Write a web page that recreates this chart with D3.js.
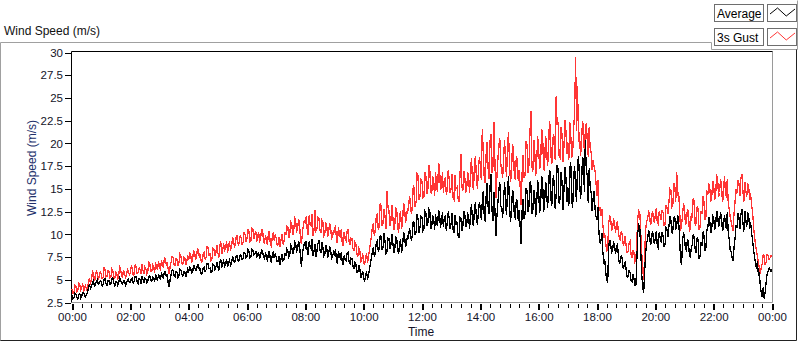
<!DOCTYPE html>
<html>
<head>
<meta charset="utf-8">
<script src="https://cdn.jsdelivr.net/npm/d3@7"></script>
<style>
  body { margin: 0; background: #fff; }
  svg { display: block; font-family: "Liberation Sans", Arial, sans-serif; }
</style>
</head>
<body>
<svg id="chart" width="800" height="342"></svg>
<script>
// sample interval of the logged data, minutes
const SAMPLE_MIN = 2

// Average wind speed (m/s), one row per hour
const avgSpeed = [
  3.3,2.9,3.0,3.5,3.4,3.1,2.9,3.3,3.5,3.0,3.2,3.6,3.6,3.2,3.1,3.4,3.7,4.1,4.5,4.0,4.2,4.7,4.9,4.3,4.4,4.8,5.0,4.5,4.6,4.9,
  4.8,4.3,4.5,5.0,5.1,4.6,4.4,4.9,4.9,4.5,4.6,5.1,5.2,4.6,4.3,4.8,4.8,4.4,4.7,5.2,5.0,4.6,4.5,4.9,4.9,4.4,4.6,5.0,5.1,4.7,
  4.7,5.1,5.2,4.6,4.8,5.4,5.3,4.8,4.6,5.1,5.0,4.5,5.4,5.0,4.7,5.2,5.1,4.7,4.9,5.4,5.5,4.9,4.8,5.3,5.2,4.8,5.6,5.1,5.0,5.5,
  5.4,5.0,5.8,5.3,5.2,5.9,5.9,5.4,5.5,4.6,4.2,5.1,5.6,6.1,6.0,5.5,5.3,5.9,5.8,5.2,5.5,6.2,6.1,5.6,5.4,5.9,5.9,5.3,5.7,6.2,
  5.9,6.4,6.3,5.7,5.8,6.5,6.5,6.0,6.0,6.7,6.6,6.1,6.2,5.6,5.7,6.3,6.4,5.9,6.1,6.8,6.8,6.2,6.3,5.8,5.9,6.7,6.6,6.1,6.4,6.9,
  6.5,6.0,6.9,7.3,6.3,6.8,7.1,6.5,6.7,7.3,6.4,6.9,7.2,6.6,6.8,7.5,7.4,6.9,7.0,7.7,7.6,7.0,7.1,7.8,7.7,7.2,7.3,8.0,7.9,7.4,
  7.6,8.3,8.1,7.4,7.5,8.4,8.3,7.7,7.8,8.2,7.4,7.9,8.0,7.3,7.7,8.3,8.2,7.5,7.3,7.9,7.6,7.0,7.9,8.2,7.2,6.9,7.7,8.1,7.4,7.8,
  7.5,7.0,7.0,7.6,6.6,7.3,7.8,7.1,7.2,7.9,7.6,8.4,8.2,7.5,7.7,8.8,8.6,7.9,8.0,9.2,9.0,8.1,8.3,9.3,8.8,7.6,6.4,7.9,8.5,9.0,
  8.7,9.3,8.1,7.7,9.2,8.6,8.4,9.5,7.6,8.2,8.9,7.5,8.2,9.0,9.4,8.3,8.0,9.1,8.6,7.6,7.8,8.8,8.5,7.4,7.9,8.7,8.3,7.3,7.5,8.1,
  7.8,8.4,7.2,6.8,8.2,7.6,7.4,8.0,6.9,6.6,7.7,7.2,7.1,7.9,8.0,7.0,6.8,7.4,7.3,6.5,6.2,6.9,6.7,5.8,5.8,6.6,6.3,5.2,5.5,6.0,
  5.2,4.8,5.6,5.9,5.0,5.5,6.2,6.8,7.4,8.1,8.6,7.5,8.0,9.1,9.3,8.2,8.4,9.9,9.8,8.3,8.6,10.1,9.2,7.9,8.1,9.6,9.5,8.4,8.8,10.0,
  9.1,7.9,8.4,9.7,9.6,8.2,7.8,9.1,9.3,8.0,8.7,10.1,10.0,8.6,8.9,9.9,9.5,10.6,10.4,9.3,9.8,11.5,11.2,9.9,10.3,12.2,11.6,10.1,10.8,12.0,
  11.9,10.4,10.6,12.5,12.3,10.9,11.2,12.8,12.6,10.6,10.9,12.1,11.7,10.5,12.2,11.1,11.0,12.6,12.5,10.7,11.4,12.4,10.8,11.9,12.0,10.4,11.3,12.5,11.8,10.6,
  11.2,12.3,10.5,10.2,12.1,11.0,11.4,9.9,9.6,11.9,11.8,10.4,10.9,12.6,12.3,10.8,11.1,12.4,11.7,10.6,12.6,13.3,11.3,10.9,12.9,13.5,11.8,11.0,12.4,13.6,
  12.8,11.6,13.5,14.8,12.1,11.4,14.2,15.6,13.0,12.2,15.3,16.6,12.6,11.5,14.6,12.8,9.8,11.9,13.4,14.9,15.8,13.1,12.9,11.8,14.0,15.7,13.3,12.1,15.1,16.4,
  13.2,11.4,12.4,14.9,14.5,12.0,11.8,13.9,13.6,11.5,12.7,10.8,8.9,12.6,13.9,11.7,12.3,15.1,14.8,12.5,13.1,15.8,15.4,12.2,12.6,14.9,14.2,11.9,13.5,16.0,
  14.6,12.4,13.2,16.4,16.1,12.6,12.8,15.8,15.3,12.9,14.0,17.1,16.8,13.1,13.5,16.5,15.7,12.8,14.4,17.6,17.2,13.4,13.9,16.8,15.9,12.7,14.8,17.4,16.3,13.6,
  15.2,13.1,17.1,18.0,13.8,12.9,16.4,17.5,14.9,13.6,17.8,18.6,16.2,13.9,15.0,18.5,18.2,14.7,20.4,17.0,16.5,13.4,17.3,15.2,14.6,12.6,13.9,14.8,12.8,11.9,
  11.6,13.0,10.2,9.0,9.3,10.1,8.1,7.0,7.2,5.8,5.0,4.7,8.6,9.4,9.0,8.0,8.2,9.2,8.8,7.9,8.4,9.0,7.6,6.8,6.9,7.7,7.3,6.2,6.5,7.0,
  6.1,5.3,5.4,6.0,5.8,4.9,4.8,5.6,5.2,4.4,4.5,7.2,10.2,11.0,10.8,8.1,5.6,4.2,3.5,5.9,7.8,9.0,9.4,10.5,10.1,8.8,9.2,10.4,9.8,8.9,
  9.6,10.4,8.7,8.5,10.3,9.6,9.1,10.2,9.8,8.6,8.9,10.7,10.5,9.7,10.9,12.0,11.6,10.1,10.4,11.8,11.9,10.5,11.0,12.1,11.5,9.4,7.2,6.6,9.3,10.2,
  9.6,8.4,8.2,9.5,9.1,7.8,7.4,8.6,8.8,10.0,9.7,8.3,8.0,9.6,9.4,7.3,7.6,9.0,8.9,10.3,9.9,8.2,8.5,10.4,10.8,11.9,11.5,10.1,10.6,12.0,
  11.8,10.5,10.9,12.6,12.3,10.8,11.2,12.4,12.0,10.4,10.7,12.1,11.6,10.6,12.4,10.2,9.4,8.3,8.1,7.4,7.1,8.6,9.6,10.9,10.8,12.3,11.9,10.6,12.2,12.8,
  11.4,10.3,12.6,11.6,10.8,12.4,12.1,10.6,11.3,10.2,9.4,8.3,7.6,6.8,6.2,7.1,5.4,5.8,4.3,3.6,3.1,4.2,2.9,3.7,4.8,5.6,5.9,6.3,6.1,5.9,
  6.2
]

// 3 second gust (m/s)
const gustSpeed = [
  4.0,3.5,3.6,4.4,4.3,3.7,3.8,4.6,4.5,3.9,4.1,4.6,3.7,4.2,4.4,3.8,4.2,4.8,5.2,4.6,4.9,5.9,5.7,5.0,5.1,6.0,5.8,5.1,5.3,5.9,
  5.6,5.1,5.2,6.3,6.1,5.3,5.4,6.0,5.9,5.2,5.3,6.2,6.0,5.2,5.1,5.8,5.7,5.0,5.5,6.4,6.2,5.4,5.3,6.1,5.8,5.2,5.4,6.2,6.0,5.5,
  5.7,6.5,6.3,5.5,5.6,6.6,6.4,5.7,5.8,6.3,6.1,5.6,6.7,6.0,5.7,6.4,6.2,5.6,5.9,6.9,6.8,5.9,5.9,6.6,6.4,5.8,6.9,6.3,6.2,7.0,
  6.6,6.0,7.2,6.5,6.4,7.4,7.3,6.6,6.8,6.1,5.6,6.5,7.0,7.6,7.5,6.7,6.6,7.3,7.2,6.5,6.9,7.8,7.6,6.8,6.7,7.5,7.4,6.6,7.0,7.7,
  7.2,7.9,7.8,7.0,7.1,8.2,8.1,7.3,7.4,8.4,8.3,7.5,7.7,6.9,7.0,7.9,8.0,7.3,7.5,8.7,8.6,7.7,7.8,7.1,7.3,8.5,8.4,7.6,8.0,8.8,
  8.0,7.4,8.7,9.2,7.8,8.3,9.0,8.2,8.4,9.3,8.0,8.6,9.2,8.3,8.5,9.6,9.5,8.6,8.8,9.9,9.8,8.8,9.0,9.9,9.6,8.9,9.1,10.2,10.0,9.2,
  9.5,10.6,10.3,9.2,9.3,10.7,10.6,9.5,9.9,10.4,9.2,9.8,10.2,9.1,9.6,10.5,10.5,9.3,9.0,9.9,9.5,8.8,10.1,10.4,8.9,8.7,9.7,10.2,9.3,9.9,
  9.6,8.8,8.9,9.7,8.6,9.4,10.0,8.9,9.2,10.2,9.9,10.9,10.8,9.6,10.0,11.4,11.2,9.9,10.3,11.8,11.6,10.2,10.6,11.7,11.3,9.4,8.9,10.2,11.0,11.6,
  11.2,12.0,10.4,9.9,12.1,11.0,10.9,12.2,9.8,10.5,12.7,10.4,10.6,11.9,11.8,10.4,10.2,11.6,11.4,9.8,10.0,11.3,11.0,9.7,10.3,11.2,10.8,9.5,9.7,10.5,
  10.2,11.0,9.4,9.0,10.8,10.1,9.6,10.6,9.0,8.7,10.3,9.5,9.3,10.4,10.5,9.2,8.8,9.6,9.5,8.4,8.2,9.1,8.9,7.8,7.6,8.5,8.3,7.0,7.2,7.9,
  7.0,6.6,7.5,7.9,6.8,7.6,8.3,9.1,9.8,10.9,11.2,9.8,10.4,12.0,12.3,10.5,10.9,13.4,13.1,11.0,11.2,12.8,12.0,10.6,14.8,13.0,12.6,10.9,11.5,13.2,
  12.0,10.5,11.0,12.9,12.8,10.8,10.2,12.2,12.4,10.6,11.5,13.3,13.2,11.3,11.7,12.9,12.6,14.1,13.9,12.2,12.9,15.3,15.1,13.0,13.6,16.7,16.5,13.8,14.2,16.0,
  15.8,14.0,14.1,16.8,16.4,14.4,14.9,17.6,17.2,14.6,14.5,16.4,15.6,14.2,16.8,15.1,14.7,17.8,17.5,14.9,15.2,16.9,14.6,15.8,16.3,14.3,15.0,17.1,16.0,14.5,
  15.1,16.6,14.0,13.8,16.5,15.0,15.2,14.0,13.6,16.3,18.8,15.2,14.8,17.0,16.4,14.6,15.0,16.9,15.9,14.5,17.3,18.4,15.4,14.9,17.8,18.6,16.1,15.0,17.0,18.5,
  17.6,16.0,21.6,19.2,16.3,15.6,18.9,20.2,17.2,16.1,20.3,21.0,16.8,17.5,22.4,18.0,14.0,16.2,18.1,19.8,20.6,17.8,17.0,16.2,18.8,20.4,17.5,16.3,19.9,21.2,
  17.9,15.8,16.6,19.8,19.6,16.4,16.0,18.6,18.3,15.9,17.1,15.2,13.2,16.8,18.7,16.2,16.5,20.3,19.9,16.8,17.6,21.0,23.6,17.5,16.9,20.4,19.0,16.4,18.1,20.8,
  19.3,17.2,17.6,21.6,21.2,17.4,17.0,20.8,20.3,17.5,18.5,22.4,21.9,17.8,17.9,21.0,20.6,18.2,25.2,22.0,22.4,18.6,18.4,21.8,21.0,18.0,19.6,22.6,21.5,18.8,
  20.1,18.2,22.3,21.0,18.4,19.1,21.6,23.5,29.5,21.4,26.3,20.2,21.2,18.6,19.8,22.4,22.0,18.9,21.4,22.2,20.3,18.5,21.8,19.4,19.0,17.1,18.2,17.5,17.0,15.6,
  14.2,16.0,12.6,13.0,12.0,12.8,11.1,9.8,10.0,9.0,8.1,8.4,11.2,12.0,11.8,10.5,10.6,11.6,11.4,10.2,10.9,11.5,10.2,9.6,9.4,10.4,9.9,8.8,9.0,9.8,
  8.7,8.0,8.1,9.0,9.2,7.8,7.4,8.3,8.0,7.0,7.2,9.6,11.8,12.6,12.4,10.2,8.0,6.2,5.0,7.8,10.4,11.4,11.6,12.5,12.3,11.0,11.4,12.6,12.1,11.2,
  12.2,12.9,11.3,11.1,12.6,12.0,11.6,12.7,12.4,11.0,11.1,13.2,12.9,12.2,13.5,15.0,14.8,13.0,13.2,15.6,15.3,13.6,16.9,14.2,14.6,12.6,10.4,11.0,12.2,13.4,
  12.9,11.0,11.3,12.8,12.4,10.4,10.6,12.2,12.0,14.0,13.7,11.0,11.2,13.0,12.8,10.5,10.8,12.6,12.2,14.2,13.6,11.6,11.9,14.6,14.4,15.6,15.1,13.6,14.0,15.9,
  15.4,13.8,14.2,16.5,16.3,14.1,14.6,15.9,15.7,13.6,13.9,16.4,15.2,14.0,16.1,13.4,12.8,11.9,11.4,10.8,10.4,12.4,13.6,15.0,14.5,16.0,15.6,14.2,16.2,16.6,
  14.9,13.6,15.8,14.8,14.1,15.5,15.3,13.8,14.5,13.2,12.6,10.9,9.8,8.9,8.2,7.6,6.9,6.3,5.6,6.4,6.8,7.8,7.7,6.6,7.0,7.8,7.6,7.2,7.4,7.7,
  7.5
]

const yTicks = [2.5, 5, 7.5, 10, 12.5, 15, 17.5, 20, 22.5, 25, 27.5, 30]
const xTickLabels = ['00:00','02:00','04:00','06:00','08:00','10:00','12:00','14:00','16:00','18:00','20:00','22:00','00:00']
const seriesNames = ['Average', '3s Gust']
const seriesColors = ['#000000', '#ff3535']

const svg = d3.select('#chart')
const plotL = 71.5, plotR = 772.5, plotT = 51.5, plotB = 302.5

// outer control frame
svg.append('path').attr('d', 'M0.5,341 V42.5 H711.5 V49.5 H797.5 V0.5')
  .attr('fill', 'none').attr('stroke', '#a0a0a0')
svg.append('path').attr('d', 'M0.5,340.5 H796.5 V49.5')
  .attr('fill', 'none').attr('stroke', '#222')
svg.append('text').attr('x', 4).attr('y', 35).attr('font-size', 12).attr('fill', '#111').text('Wind Speed (m/s)')

const x = d3.scaleLinear().domain([0, 1440]).range([72, 772])
const y = d3.scaleLinear().domain([2.5, 30]).range([302.5, 52.5])

// plot area frame
svg.append('path').attr('d', `M${plotL},${plotB} H${plotR} V${plotT}`).attr('fill', 'none').attr('stroke', '#9a9a9a')
svg.append('path').attr('d', `M${plotL},${plotB} V${plotT} H${plotR}`).attr('fill', 'none').attr('stroke', '#000')

// series, drawn aliased like the instrument screen
const line = d3.line().x((d, i) => x(i * SAMPLE_MIN)).y(d => y(d))
;[gustSpeed, avgSpeed].forEach((s, k) => {
  svg.append('path').datum(s)
    .attr('fill', 'none')
    .attr('stroke', k === 0 ? seriesColors[1] : seriesColors[0])
    .attr('stroke-width', 1.3)
    .attr('shape-rendering', 'crispEdges')
    .attr('d', line)
})

// y axis
const yAxis = svg.append('g').attr('transform', 'translate(71,0)')
  .call(d3.axisLeft(y).tickValues(yTicks).tickFormat(d => d).tickSize(6).tickPadding(2))
yAxis.select('.domain').remove()
yAxis.selectAll('line').attr('stroke', '#000').attr('shape-rendering', 'crispEdges')
yAxis.selectAll('text').attr('font-size', 11.5).attr('fill', '#141428').attr('font-family', null)

// x axis: minor ticks every 20 min, labelled ticks every 2 h
const xMinor = svg.append('g').attr('transform', 'translate(0,304)')
  .call(d3.axisBottom(x).tickValues(d3.range(0, 1441, 20)).tickFormat('').tickSize(4))
xMinor.select('.domain').remove()
xMinor.selectAll('line').attr('stroke', '#000').attr('shape-rendering', 'crispEdges')

const xMajor = svg.append('g').attr('transform', 'translate(0,304)')
  .call(d3.axisBottom(x).tickValues(xTickLabels.map((d, i) => i * 120))
    .tickFormat((d, i) => xTickLabels[i]).tickSize(6).tickPadding(3))
xMajor.select('.domain').remove()
xMajor.selectAll('line').attr('stroke', '#000').attr('stroke-width', 2).attr('shape-rendering', 'crispEdges')
xMajor.selectAll('text').attr('font-size', 11.5).attr('fill', '#141428').attr('font-family', null)

// axis titles
svg.append('text').attr('x', 421).attr('y', 336).attr('text-anchor', 'middle').attr('font-size', 12).attr('fill', '#141428').text('Time')
svg.append('text').attr('transform', 'translate(36,168) rotate(-90)').attr('text-anchor', 'middle')
  .attr('font-size', 12).attr('fill', '#22306a').text('Wind Speed (m/s)')

// legend
const zig = [[0, 0.6], [0.3, 0], [0.65, 0.8], [1, 0.1]]
seriesNames.forEach((name, i) => {
  const gy = 4 + i * 24
  const g = svg.append('g').attr('transform', `translate(714,${gy})`)
  g.append('rect').attr('x', 0.5).attr('y', 0.5).attr('width', 49).attr('height', 17)
    .attr('fill', '#fff').attr('stroke', '#6e6e6e')
  g.append('text').attr('x', 3).attr('y', 13.5).attr('font-size', 12).attr('fill', '#000').text(name)
  g.append('rect').attr('x', 53.5).attr('y', 0.5).attr('width', 29).attr('height', 17)
    .attr('fill', '#fff').attr('stroke', '#6e6e6e')
  const sx = d3.scaleLinear().range([56, 81]), sy = d3.scaleLinear().range([4, 14])
  g.append('path').datum(zig).attr('fill', 'none').attr('stroke', seriesColors[i])
    .attr('d', d3.line().x(d => sx(d[0])).y(d => sy(d[1])))
})
</script>
</body>
</html>
